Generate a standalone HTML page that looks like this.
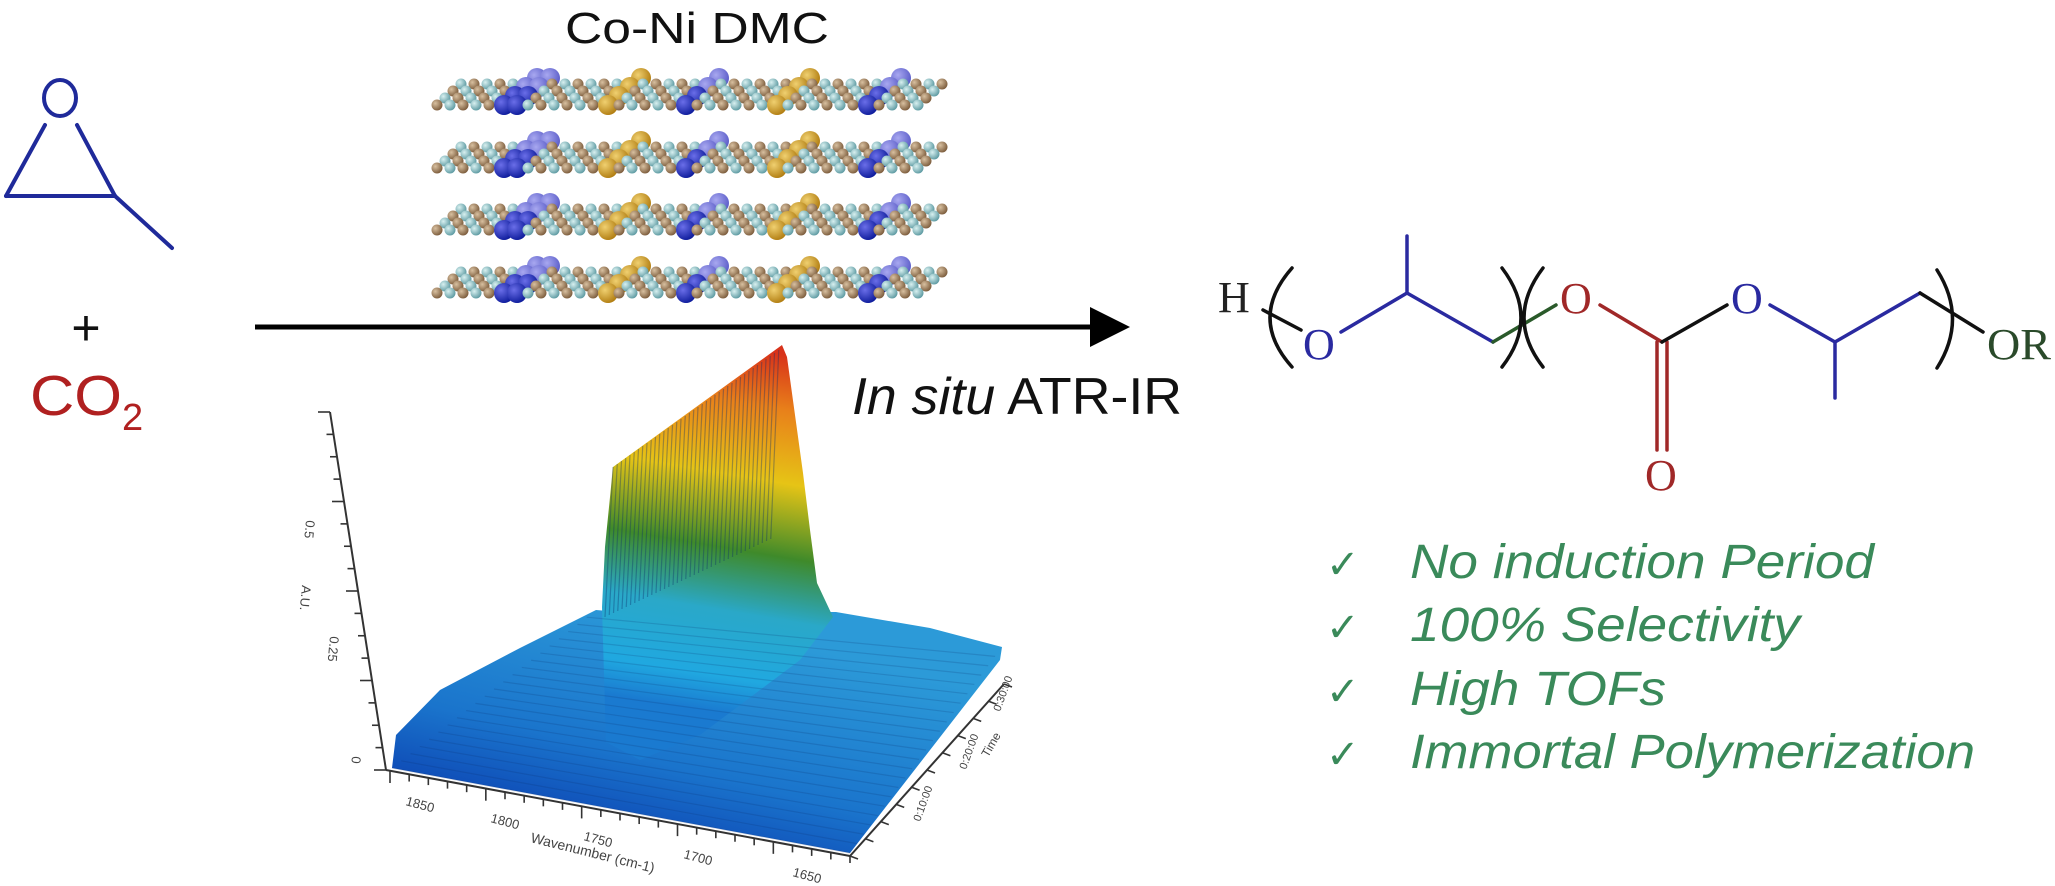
<!DOCTYPE html>
<html><head><meta charset="utf-8">
<style>
html,body{margin:0;padding:0;background:#fff;}
svg{display:block;}
</style></head>
<body>
<svg id="s" width="2055" height="886" viewBox="0 0 2055 886" xmlns="http://www.w3.org/2000/svg">
<defs>
  <linearGradient id="peak" x1="700" y1="340" x2="640" y2="700" gradientUnits="userSpaceOnUse">
    <stop offset="0" stop-color="#d8321a"/>
    <stop offset="0.15" stop-color="#e8801a"/>
    <stop offset="0.35" stop-color="#e6c416"/>
    <stop offset="0.55" stop-color="#3f8a2a"/>
    <stop offset="0.72" stop-color="#2aa8c8"/>
    <stop offset="0.9" stop-color="#20a8e0"/>
    <stop offset="1" stop-color="#1a7ad0"/>
  </linearGradient>
  <linearGradient id="base" x1="700" y1="620" x2="640" y2="860" gradientUnits="userSpaceOnUse">
    <stop offset="0" stop-color="#2c9ad8"/>
    <stop offset="0.6" stop-color="#1a74cc"/>
    <stop offset="1" stop-color="#0b3fb0"/>
  </linearGradient>
  <radialGradient id="gb" cx="0.35" cy="0.35" r="0.7"><stop offset="0" stop-color="#6a6ee8"/><stop offset="1" stop-color="#0c1a9a"/></radialGradient>
  <radialGradient id="gb2" cx="0.35" cy="0.35" r="0.7"><stop offset="0" stop-color="#a8a8f0"/><stop offset="1" stop-color="#5a5cc8"/></radialGradient>
  <radialGradient id="gg" cx="0.35" cy="0.35" r="0.7"><stop offset="0" stop-color="#f0d070"/><stop offset="1" stop-color="#b07c10"/></radialGradient>
  <radialGradient id="gbr" cx="0.35" cy="0.35" r="0.7"><stop offset="0" stop-color="#d8c0a0"/><stop offset="1" stop-color="#7a5a3a"/></radialGradient>
  <radialGradient id="gt" cx="0.35" cy="0.35" r="0.7"><stop offset="0" stop-color="#d8f0f0"/><stop offset="1" stop-color="#5a98a0"/></radialGradient>
</defs>

<!-- epoxide -->
<g stroke="#1f2a9a" stroke-width="4" fill="none" stroke-linecap="round">
  <ellipse cx="60" cy="98" rx="16" ry="18"/>
  <line x1="45" y1="125" x2="6" y2="196"/>
  <line x1="77" y1="125" x2="115" y2="196"/>
  <line x1="6" y1="196" x2="115" y2="196"/>
  <line x1="115" y1="196" x2="172" y2="248"/>
</g>
<text x="86" y="345" font-family="Liberation Sans, sans-serif" font-size="50" text-anchor="middle" fill="#111">+</text>
<text x="30" y="415" font-family="Liberation Sans, sans-serif" font-size="57" fill="#b02020" textLength="92" lengthAdjust="spacingAndGlyphs">CO</text>
<text x="122" y="430" font-family="Liberation Sans, sans-serif" font-size="38" fill="#b02020">2</text>

<!-- Co-Ni DMC -->
<text x="697" y="43" font-family="Liberation Sans, sans-serif" font-size="44" text-anchor="middle" fill="#111" textLength="264" lengthAdjust="spacingAndGlyphs">Co-Ni DMC</text>
<g id="layers"></g>

<!-- arrow -->
<line x1="255" y1="327" x2="1095" y2="327" stroke="#000" stroke-width="5"/>
<polygon points="1090,307 1130,327 1090,347" fill="#000"/>

<!-- IR plot -->
<g id="plot">
  <polygon points="392,768 396,735 440,690 520,648 596,610 620,612 836,612 930,628 1002,647 1000,660 850,853" fill="url(#base)"/>
  <polygon points="602,607 605,547 613,467 782,345 787,357 803,473 810,530 817,583 833,617 800,660 700,735 640,760 606,742" fill="url(#peak)"/>
  <g id="stripes" stroke="#0b2f6a" stroke-opacity="0.35" stroke-width="1.2" fill="none"></g>
  <g stroke="#333" stroke-width="2" fill="none">
    <line x1="330" y1="412" x2="386" y2="770"/>
    <line x1="386" y1="770" x2="850" y2="856"/>
    <line x1="850" y1="856" x2="1004" y2="684"/>
  </g>
  <g id="ticks" stroke="#333" stroke-width="1.6"></g>
  <g font-family="Liberation Sans, sans-serif" font-size="13" fill="#444">
    <text transform="translate(306,520) rotate(95)">0.5</text>
    <text transform="translate(302,585) rotate(95)">A.U.</text>
    <text transform="translate(330,636) rotate(95)">0.25</text>
    <text transform="translate(352,756) rotate(95)">0</text>
    <text transform="translate(405,805) rotate(15)">1850</text>
    <text transform="translate(490,822) rotate(15)">1800</text>
    <text transform="translate(583,840) rotate(15)">1750</text>
    <text transform="translate(530,842) rotate(14)" font-size="14">Wavenumber (cm-1)</text>
    <text transform="translate(683,858) rotate(15)">1700</text>
    <text transform="translate(792,876) rotate(15)">1650</text>
    <text transform="translate(920,822) rotate(-70)" font-size="11">0:10:00</text>
    <text transform="translate(966,770) rotate(-70)" font-size="11">0:20:00</text>
    <text transform="translate(1000,712) rotate(-70)" font-size="11">0:30:00</text>
    <text transform="translate(988,758) rotate(-60)" font-size="12">Time</text>
  </g>
</g>

<text x="852" y="414" font-family="Liberation Sans, sans-serif" font-size="52" fill="#111" textLength="330" lengthAdjust="spacingAndGlyphs"><tspan font-style="italic">In situ</tspan> ATR-IR</text>

<!-- polymer -->
<g font-family="Liberation Serif, serif" font-size="44">
  <text x="1218" y="312" fill="#222">H</text>
  <text x="1303" y="359" fill="#2a2aa0">O</text>
  <text x="1560" y="313" fill="#a02828">O</text>
  <text x="1731" y="313" fill="#2a2aa0">O</text>
  <text x="1645" y="490" fill="#a02828">O</text>
  <text x="1987" y="359" fill="#2a4a2a" textLength="64" lengthAdjust="spacingAndGlyphs">OR</text>
</g>
<g fill="none" stroke-width="3.5" stroke-linecap="round">
  <path d="M1292,268 Q1248,318 1292,367" stroke="#111"/>
  <line x1="1263" y1="310" x2="1301" y2="330" stroke="#111"/>
  <polyline points="1341,332 1407,293 1493,342" stroke="#2a2aa0"/>
  <line x1="1407" y1="293" x2="1407" y2="236" stroke="#2a2aa0"/>
  <line x1="1493" y1="342" x2="1556" y2="305" stroke="#2a5a2a"/>
  <path d="M1502,268 Q1540,318 1502,367" stroke="#111"/>
  <path d="M1543,268 Q1505,318 1543,367" stroke="#111"/>
  <line x1="1600" y1="305" x2="1662" y2="342" stroke="#a02828"/>
  <line x1="1657" y1="342" x2="1657" y2="450" stroke="#a02828"/>
  <line x1="1667" y1="342" x2="1667" y2="450" stroke="#a02828"/>
  <line x1="1662" y1="342" x2="1727" y2="305" stroke="#111"/>
  <polyline points="1770,305 1835,342 1920,293" stroke="#2a2aa0"/>
  <line x1="1835" y1="342" x2="1835" y2="398" stroke="#2a2aa0"/>
  <line x1="1920" y1="293" x2="1983" y2="332" stroke="#111"/>
  <path d="M1937,270 Q1968,319 1937,368" stroke="#111"/>
</g>

<!-- bullets -->
<g font-family="Liberation Sans, sans-serif" font-size="48" font-style="italic" fill="#3a8a5a">
  <text x="1326" y="578" font-style="normal" font-size="40">✓</text>
  <text x="1410" y="578" textLength="464" lengthAdjust="spacingAndGlyphs">No induction Period</text>
  <text x="1326" y="641" font-style="normal" font-size="40">✓</text>
  <text x="1410" y="641" textLength="390" lengthAdjust="spacingAndGlyphs">100% Selectivity</text>
  <text x="1326" y="705" font-style="normal" font-size="40">✓</text>
  <text x="1410" y="705" textLength="256" lengthAdjust="spacingAndGlyphs">High TOFs</text>
  <text x="1326" y="768" font-style="normal" font-size="40">✓</text>
  <text x="1410" y="768" textLength="565" lengthAdjust="spacingAndGlyphs">Immortal Polymerization</text>
</g>
</svg>
<script>
(function(){
var NS="http://www.w3.org/2000/svg";
function el(p,t,a){var e=document.createElementNS(NS,t);for(var k in a)e.setAttribute(k,a[k]);p.appendChild(e);return e;}
var L=document.getElementById("layers");
var rows=[95,158,220,283];
var blues=[517,695,874], golds=[612,785];
rows.forEach(function(y0){
  for(var x=447;x<=935;x+=13){
    var big=null;
    blues.forEach(function(b){if(Math.abs(x-b)<10)big="b";});
    golds.forEach(function(g){if(Math.abs(x-g)<8)big="g";});
    var idx=Math.round((x-447)/13);
    if(big){
      for(var i=3;i>=0;i--){
        var f=big=="g"?"url(#gg)":(i>=2?"url(#gb2)":"url(#gb)");
        el(L,"circle",{cx:x-8+i*11,cy:y0+10-i*9,r:10,fill:f});
      }
    } else {
      for(var j=3;j>=0;j--){
        var f2=((idx+j)%2==0)?"url(#gbr)":"url(#gt)";
        el(L,"circle",{cx:x-10+j*8,cy:y0+10-j*7,r:5.5,fill:f2});
      }
    }
  }
});
var S=document.getElementById("stripes");
for(var t=0;t<40;t++){
  var u=t/40;
  var x=613+u*170, y=467-u*120;
  el(S,"path",{d:"M"+x+","+y+" L"+(x-8)+","+(y+150+u*40)});
}
for(var k=0;k<22;k++){
  var v=k/22;
  var x1=392+v*(596-392), y1=768+v*(610-768);
  var x2=850+v*(1002-850), y2=853+v*(647-853);
  el(S,"path",{d:"M"+x1+","+y1+" L"+x2+","+y2,"stroke-opacity":"0.18"});
}
var T=document.getElementById("ticks");
for(var i=0;i<=16;i++){var a=i/16;var x=330+a*56,y=412+a*358;el(T,"line",{x1:x,y1:y,x2:x+(i%4==0?-12:-7),y2:y});}
for(var i=0;i<=24;i++){var a=i/24;var x=390+a*460,y=771+a*85;el(T,"line",{x1:x,y1:y,x2:x,y2:y+(i%5==0?12:7)});}
for(var i=0;i<=10;i++){var a=i/10;var x=850+a*154,y=856-a*172;el(T,"line",{x1:x,y1:y,x2:x+8,y2:y+3});}
})();
</script>
</body></html>
